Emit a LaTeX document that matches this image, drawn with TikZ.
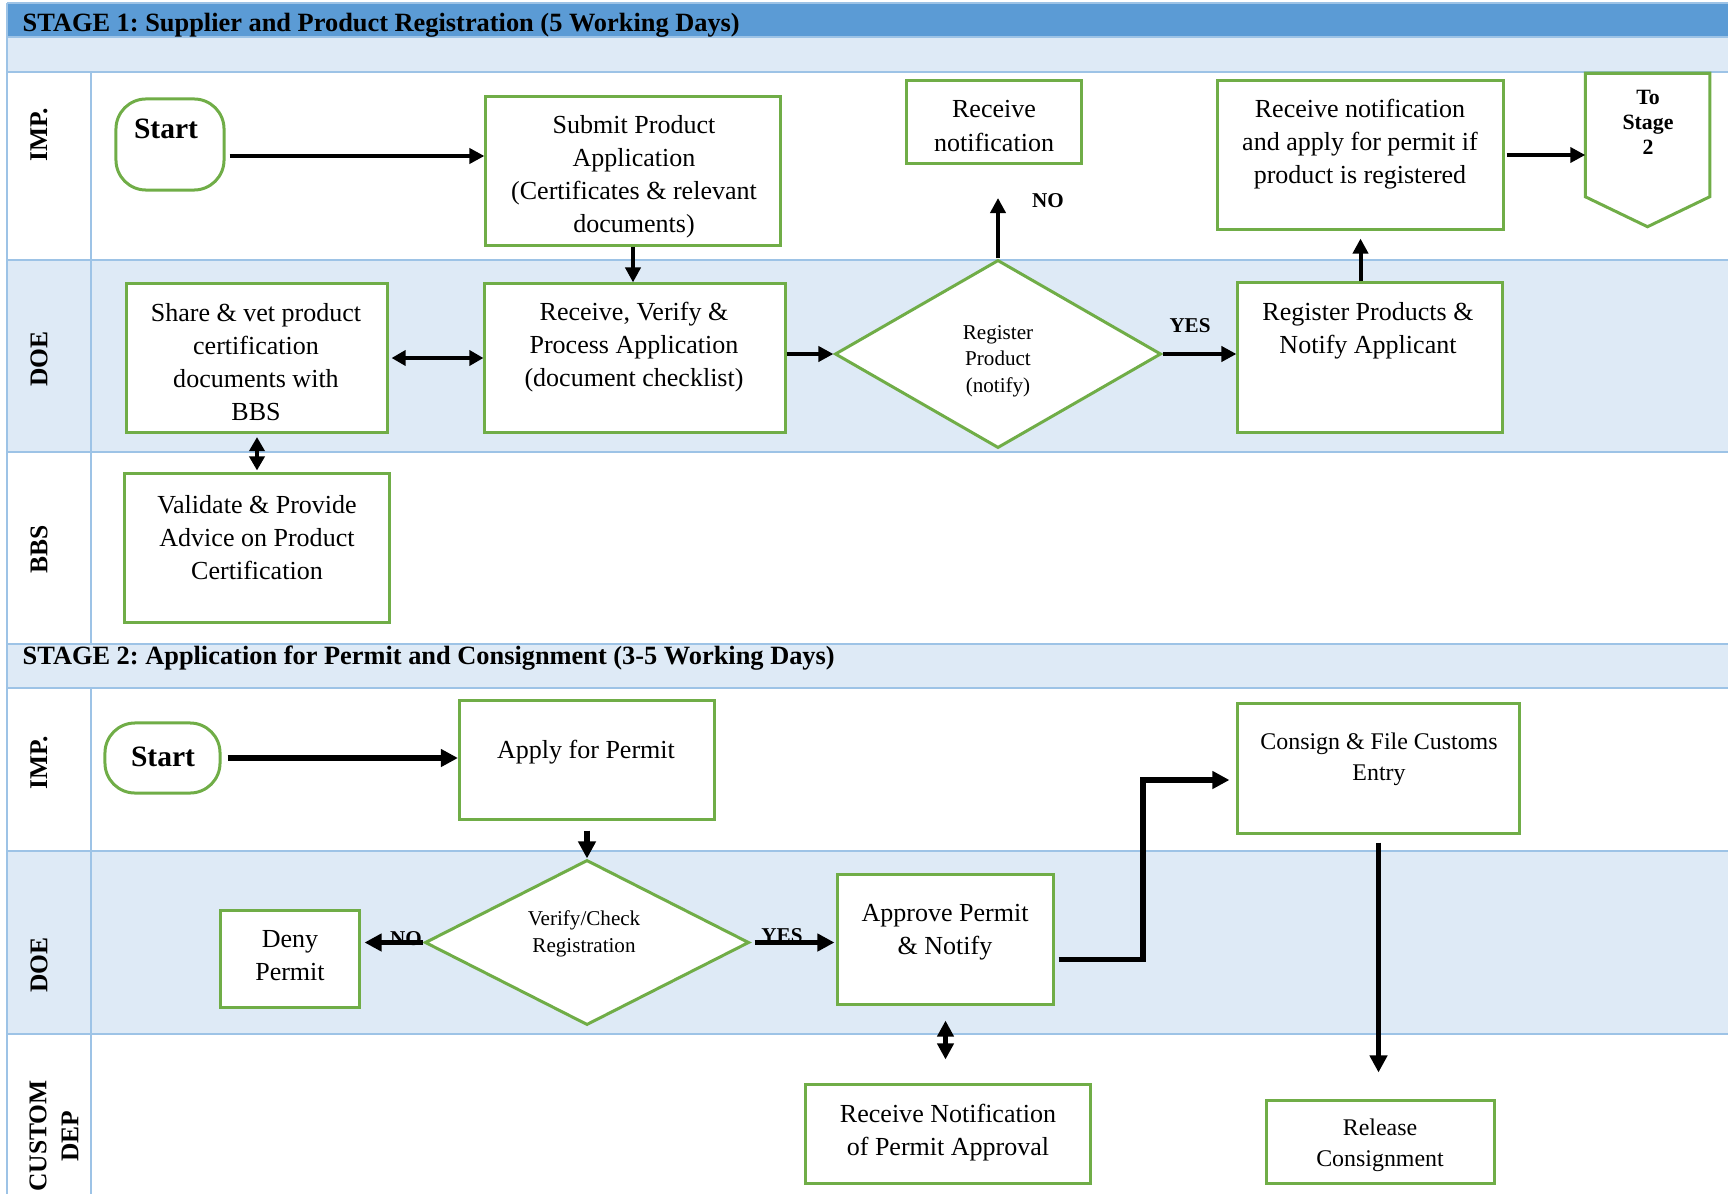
\documentclass[tikz,border=0pt]{standalone}
\usepackage{fontspec}
\setmainfont{Liberation Serif}
\usetikzlibrary{shapes,arrows.meta,calc}
\frenchspacing

\definecolor{hdrblue}{HTML}{5B9BD5}
\definecolor{bandblue}{HTML}{DEEAF6}
\definecolor{rowline}{HTML}{9DC3E6}
\definecolor{boxgreen}{HTML}{70AD47}

\begin{document}
\begin{tikzpicture}[x=0.01cm,y=-0.01cm]
	\def \hdrbot{37}
	\def \bandbot{72}
	\def \doeonetop{260}
	\def \bbstop{452}
	\def \stagetwotop{644}
	\def \imptwotop{688}
	\def \doetwotop{851}
	\def \customtop{1034}
	\tikzstyle{p-box}=[draw=boxgreen,line width=0.03cm,fill=white,inner sep=0pt]
	\tikzstyle{s-box}=[p-box,rounded corners=0.3cm]
	\tikzstyle{d-node}=[p-box,diamond,shape aspect=1.7]
	\tikzstyle{t-node}=[align=center,inner sep=0pt,font=\fontsize{7.4}{9.4}\selectfont]
	\tikzstyle{m-node}=[t-node,font=\fontsize{6.8}{8.8}\selectfont]
	\tikzstyle{q-node}=[t-node,font=\fontsize{6}{7.5}\selectfont]
	\tikzstyle{st-node}=[t-node,font=\bfseries\fontsize{8.4}{10}\selectfont]
	\tikzstyle{yn-node}=[align=center,inner sep=0pt,font=\bfseries\fontsize{6}{7.1}\selectfont]
	\tikzstyle{lane}=[rotate=90,align=center,inner sep=0pt,font=\bfseries\fontsize{7.25}{9.1}\selectfont]
	\tikzstyle{head}=[anchor=base west,inner sep=0pt,font=\bfseries\fontsize{7.5}{9}\selectfont]
	\tikzstyle{arr}=[line width=0.04cm,-{Triangle[length=0.15cm,width=0.15cm]}]
	\tikzstyle{darr}=[line width=0.04cm,{Triangle[length=0.14cm,width=0.15cm]}-{Triangle[length=0.14cm,width=0.15cm]}]
	\tikzstyle{warr}=[line width=0.055cm,-{Triangle[length=0.17cm,width=0.17cm]}]
	\tikzstyle{wdarr}=[line width=0.05cm,{Triangle[length=0.16cm,width=0.16cm]}-{Triangle[length=0.16cm,width=0.16cm]}]
	\tikzstyle{row-line}=[draw=rowline,line width=0.02cm]
	\useasboundingbox (0,0) rectangle (1728,1194);

	% lanes
	\fill[hdrblue] (7,3) rectangle (1728,\hdrbot);
	\fill[bandblue] (7,\hdrbot) rectangle (1728,\bandbot);
	\fill[bandblue] (7,\doeonetop) rectangle (1728,\bbstop);
	\fill[bandblue] (7,\stagetwotop) rectangle (1728,\imptwotop);
	\fill[bandblue] (7,\doetwotop) rectangle (1728,\customtop);
	\foreach \yy in {3,\hdrbot,\bandbot,\doeonetop,\bbstop,\stagetwotop,\imptwotop,\doetwotop,\customtop}
		\draw[row-line] (7,\yy) -- (1728,\yy);
	\draw[row-line] (7,3) -- (7,1194);
	\draw[row-line] (91,\bandbot) -- (91,\stagetwotop);
	\draw[row-line] (91,\imptwotop) -- (91,1194);

	% headers
	\node[head] (stageone) at (22,31.5) {STAGE 1: Supplier and Product Registration (5 Working Days)};
	\node[head] (stagetwo) at (22,664) {STAGE 2: Application for Permit and Consignment (3-5 Working Days)};

	% lane names
	\node[lane] (impone) at (39,135) {IMP.};
	\node[lane] (doeone) at (39,359) {DOE};
	\node[lane] (bbs) at (39,549) {BBS};
	\node[lane] (imptwo) at (39,763) {IMP.};
	\node[lane] (doetwo) at (39,965) {DOE};
	\node[lane] (custom) at (54,1136) {CUSTOM\\DEP};

	% stage 1
	\node[s-box,minimum width=1.08cm,minimum height=0.91cm] (startone) at (170,144.5) {};
	\node[p-box,minimum width=2.94cm,minimum height=1.48cm] (submit) at (633,171) {};
	\node[p-box,minimum width=1.74cm,minimum height=0.83cm] (recvno) at (994,122) {};
	\node[p-box,minimum width=2.85cm,minimum height=1.48cm] (recvapp) at (1360.5,155) {};
	\node[minimum width=1.23cm,minimum height=1.52cm,inner sep=0pt] (tostage) at (1647.5,150) {};
	\draw[p-box] (tostage.north west) -- (tostage.north east) -- ($(tostage.south east)+(0,-30)$)
		-- (tostage.south) -- ($(tostage.south west)+(0,-30)$) -- cycle;
	\node[p-box,minimum width=2.60cm,minimum height=1.49cm] (share) at (257,358) {};
	\node[p-box,minimum width=3.00cm,minimum height=1.48cm] (recv) at (635,358) {};
	\node[d-node,minimum width=3.26cm,minimum height=1.88cm] (regq) at (998,354) {};
	\node[p-box,minimum width=2.64cm,minimum height=1.49cm] (regp) at (1370,357.5) {};
	\node[p-box,minimum width=2.64cm,minimum height=1.48cm] (valid) at (257,548) {};
	\coordinate (noend) at (998,198);

	\node[st-node] (startone-t) at (166,129) {Start};
	\node[t-node] (submit-t) at (634,177) {Submit Product\\Application\\(Certificates \& relevant\\documents)};
	\node[t-node] (recvno-t) at (994,126) {Receive\\notification};
	\node[t-node] (recvapp-t) at (1360,144) {Receive notification\\and apply for permit if\\product is registered};
	\node[yn-node,font=\bfseries\fontsize{6.2}{7.1}\selectfont] (tostage-t) at (1648,122) {To\\Stage\\2};
	\node[t-node] (share-t) at (256,362) {Share \& vet product\\certification\\documents with\\BBS};
	\node[t-node] (recv-t) at (634,347) {Receive, Verify \&\\Process Application\\(document checklist)};
	\node[q-node] (regq-t) at (998,361) {Register\\Product\\(notify)};
	\node[t-node] (regp-t) at (1368,331) {Register Products \&\\Notify Applicant};
	\node[t-node] (valid-t) at (257,538) {Validate \& Provide\\Advice on Product\\Certification};
	\node[yn-node] (noone) at (1048,201) {NO};
	\node[yn-node] (yesone) at (1190,326) {YES};

	\draw[arr,shorten <=0.04cm] ($(startone.east)+(0,11.5)$) -- ($(submit.west)+(0,-15)$);
	\draw[arr] (submit.south) -- (submit.south |- recv.north);
	\draw[darr,shorten <=0.03cm] (share.east) -- (share.east -| recv.west);
	\draw[arr] (recv.east |- regq.west) -- (regq.west);
	\draw[arr] (regq.north) -- (noend);
	\draw[arr] (regq.east) -- (regq.east -| regp.west);
	\draw[arr] (regp.north -| recvapp.south) -- ($(recvapp.south)+(0,8)$);
	\draw[arr,shorten <=0.02cm] (recvapp.east) -- (recvapp.east -| tostage.west);
	\draw[darr,shorten <=0.03cm,shorten >=0.02cm] (share.south) -- (valid.north);

	% stage 2
	\node[s-box,minimum width=1.15cm,minimum height=0.70cm] (starttwo) at (162.5,758) {};
	\node[p-box,minimum width=2.55cm,minimum height=1.18cm] (apply) at (587,760) {};
	\node[d-node,minimum width=3.24cm,minimum height=1.65cm] (verq) at (587,942.5) {};
	\node[p-box,minimum width=1.38cm,minimum height=0.96cm] (deny) at (290,959) {};
	\node[p-box,minimum width=2.15cm,minimum height=1.29cm] (approve) at (945.5,939.5) {};
	\node[p-box,minimum width=2.81cm,minimum height=1.29cm] (consign) at (1378.5,768.5) {};
	\node[p-box,minimum width=2.84cm,minimum height=0.98cm] (recvperm) at (948,1134) {};
	\node[p-box,minimum width=2.27cm,minimum height=0.82cm] (release) at (1380.5,1142) {};
	\coordinate (elbow) at (1143,780);

	\node[st-node] (starttwo-t) at (163,757) {Start};
	\node[t-node] (apply-t) at (586,752) {Apply for Permit};
	\node[q-node] (verq-t) at (584,934) {Verify/Check\\Registration};
	\node[t-node] (deny-t) at (290,956) {Deny\\Permit};
	\node[t-node] (approve-t) at (945,932) {Approve Permit\\\& Notify};
	\node[m-node] (consign-t) at (1379,759) {Consign \& File Customs\\Entry};
	\node[t-node] (recvperm-t) at (948,1133) {Receive Notification\\of Permit Approval};
	\node[m-node] (release-t) at (1380,1145) {Release\\Consignment};

	\draw[warr,shorten <=0.06cm] (starttwo.east) -- (starttwo.east -| apply.west);
	\draw[warr,shorten <=0.1cm] (apply.south) -- (verq.north);
	\draw[warr,shorten >=0.04cm] (verq.west) -- (verq.west -| deny.east);
	\draw[warr,shorten <=0.04cm,shorten >=0.02cm] (verq.east) -- (verq.east -| approve.west);
	\draw[warr] ($(approve.east)+(4,20)$) -| (elbow) -- ($(consign.west)+(-7,11.5)$);
	\draw[warr,shorten <=0.08cm,shorten >=0.27cm] (consign.south) -- (consign.south |- release.north);
	\draw[wdarr,shorten <=0.15cm,shorten >=0.24cm] (approve.south) -- (approve.south |- recvperm.north);
	\node[yn-node] (notwo) at (406,939) {NO};
	\node[yn-node] (yestwo) at (782,936) {YES};
\end{tikzpicture}
\end{document}
